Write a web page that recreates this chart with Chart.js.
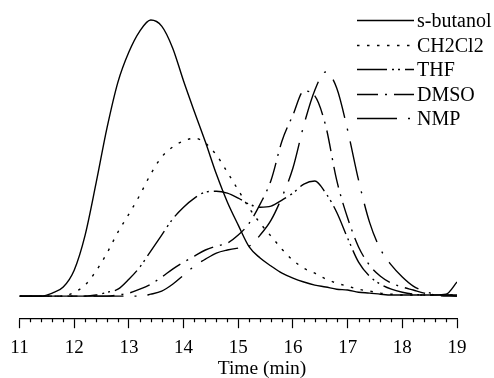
<!DOCTYPE html>
<html>
<head>
<meta charset="utf-8">
<script src="https://cdn.jsdelivr.net/npm/chart.js@4"></script>
<style>
  html, body { margin: 0; padding: 0; background: #fff; }
  #wrap { width: 494px; height: 378px; }
</style>
</head>
<body>
<div id="wrap"><canvas id="c" width="494" height="378"></canvas></div>
<script>
// Time axis (min)
const times = [11.0, 11.2, 11.4, 11.6, 11.8, 12.0, 12.2, 12.4, 12.6, 12.8,
               13.0, 13.2, 13.4, 13.6, 13.8, 14.0, 14.2, 14.4, 14.6, 14.8,
               15.0, 15.2, 15.4, 15.6, 15.8, 16.0, 16.2, 16.4, 16.6, 16.8,
               17.0, 17.2, 17.4, 17.6, 17.8, 18.0, 18.2, 18.4, 18.6, 18.8, 19.0];

// Detector response (arbitrary units)
const sButanol = [0, 0, 0, 1.1, 3.3, 9.4, 22.1, 40.9, 60.9, 77.5,
                  88.4, 96.0, 100, 97.8, 89.9, 77.9, 66.7, 55.8, 44.2, 34.1,
                  25.7, 17.8, 13.8, 10.9, 8.3, 6.5, 5.1, 4.0, 3.3, 2.5,
                  2.2, 1.4, 1.1, 0.7, 0.4, 0.4, 0.4, 0.4, 0.4, 0.7, 5.1];
const ch2cl2 = [0, 0, 0, 0, 0, 1.4, 4.0, 9.1, 15.6, 23.2,
                29.7, 36.6, 44.2, 50.4, 54.0, 56.2, 57.2, 55.4, 51.1, 44.9,
                38.4, 31.9, 26.4, 21.7, 17.0, 13.0, 10.1, 8.3, 6.2, 4.7,
                3.6, 2.5, 1.8, 1.1, 0.7, 0.4, 0.4, 0.4, 0.4, 0.4, 0.4];
const thf = [0, 0, 0, 0, 0, 0, 0, 0.4, 1.4, 2.5,
             6.1, 10.5, 16.3, 22.1, 27.9, 32.2, 35.5, 37.7, 38.0, 37.3,
             35.5, 33.3, 32.2, 32.6, 34.8, 37.3, 40.6, 41.7, 37.3, 30.4,
             21.0, 12.3, 7.2, 4.3, 2.5, 1.4, 0.7, 0.4, 0.4, 0.4, 0.4];
const dmso = [0, 0, 0, 0, 0, 0, 0, 0, 0, 0.4,
              1.1, 2.5, 4.3, 6.9, 9.8, 12.3, 14.5, 16.7, 18.1, 19.2,
              22.1, 26.4, 33.3, 42.0, 56.2, 65.6, 74.3, 72.5, 61.6, 42.0,
              28.3, 17.8, 11.2, 7.2, 4.7, 3.3, 2.2, 1.1, 0.4, 0, 0];
const nmp = [0, 0, 0, 0, 0, 0, 0, 0, 0, 0,
             0, 0, 0.7, 1.8, 4.3, 7.6, 10.9, 13.4, 15.6, 16.7,
             17.4, 18.1, 22.1, 27.5, 35.9, 46.4, 62.0, 74.6, 81.2, 75.4,
             60.1, 42.0, 26.8, 17.0, 11.2, 6.9, 3.6, 1.8, 0.7, 0.4, 0];

const seriesNames = ['s-butanol', 'CH2Cl2', 'THF', 'DMSO', 'NMP'];
const seriesValues = [sButanol, ch2cl2, thf, dmso, nmp];
const seriesDash = [[], [2.5, 7.5], [30, 5, 2, 4, 2, 5], [21, 7, 2, 7], [40, 11, 2, 11]];

const axisTitle = 'Time (min)';
const FONT = '"Liberation Serif", "Times New Roman", serif';

const isInt = v => Math.abs(v - Math.round(v)) < 1e-6;

const datasets = seriesNames.map((name, i) => ({
  label: name,
  data: times.map((t, k) => ({ x: t, y: seriesValues[i][k] })),
  borderColor: '#000',
  borderWidth: 1.4,
  borderDash: seriesDash[i],
  borderCapStyle: 'butt',
  pointRadius: 0,
  fill: false,
  cubicInterpolationMode: 'monotone'
}));

const whiteBg = {
  id: 'whiteBg',
  beforeDraw(chart) {
    const ctx = chart.ctx;
    ctx.save();
    ctx.fillStyle = '#fff';
    ctx.fillRect(0, 0, chart.width, chart.height);
    ctx.restore();
  }
};

const minorTicks = {
  id: 'minorTicks',
  afterDraw(chart) {
    const s = chart.scales.x;
    const ctx = chart.ctx;
    const y0 = chart.chartArea.bottom;
    ctx.save();
    ctx.strokeStyle = '#000';
    ctx.lineWidth = 1.2;
    ctx.beginPath();
    s.ticks.forEach(t => {
      if (!isInt(t.value)) {
        const x = Math.round(s.getPixelForValue(t.value)) + 0.5;
        ctx.moveTo(x, y0);
        ctx.lineTo(x, y0 + 4);
      }
    });
    ctx.stroke();
    ctx.restore();
  }
};

// Axis title, drawn off-centre like the original figure
const xTitle = {
  id: 'xTitle',
  afterDraw(chart) {
    const ctx = chart.ctx;
    ctx.save();
    ctx.fillStyle = '#000';
    ctx.font = '19.5px ' + FONT;
    ctx.textAlign = 'center';
    ctx.textBaseline = 'middle';
    ctx.fillText(axisTitle, 262, 369);
    ctx.restore();
  }
};

const lineLegend = {
  id: 'lineLegend',
  afterDraw(chart) {
    const ctx = chart.ctx;
    const x0 = 357, x1 = 414, tx = 417, y0 = 20, gap = 24.5;
    chart.data.datasets.forEach((ds, i) => {
      const y = Math.round(y0 + i * gap) + 0.5;
      ctx.save();
      ctx.strokeStyle = ds.borderColor;
      ctx.lineWidth = 1.3;
      ctx.lineCap = 'butt';
      ctx.setLineDash(ds.borderDash || []);
      ctx.beginPath();
      ctx.moveTo(x0, y);
      ctx.lineTo(x1, y);
      ctx.stroke();
      ctx.setLineDash([]);
      ctx.fillStyle = '#000';
      ctx.font = '20px ' + FONT;
      ctx.textBaseline = 'middle';
      ctx.textAlign = 'left';
      ctx.fillText(ds.label, tx, y + 1);
      ctx.restore();
    });
  }
};

new Chart(document.getElementById('c'), {
  type: 'line',
  data: { datasets },
  options: {
    responsive: false,
    animation: false,
    devicePixelRatio: 1,
    layout: { padding: { left: 19.5, right: 37, top: 14.5, bottom: 11 } },
    plugins: { legend: { display: false }, tooltip: { enabled: false } },
    scales: {
      x: {
        type: 'linear',
        min: 11,
        max: 19,
        border: { display: true, color: '#000', width: 1.2 },
        grid: {
          drawOnChartArea: false,
          drawTicks: true,
          tickLength: 10,
          tickWidth: 1.2,
          tickColor: c => (c.tick && isInt(c.tick.value)) ? '#000' : 'rgba(0,0,0,0)'
        },
        ticks: {
          stepSize: 0.2,
          autoSkip: false,
          maxRotation: 0,
          padding: 8,
          color: '#000',
          font: { family: FONT, size: 19, lineHeight: 1.2 },
          callback: v => isInt(v) ? String(Math.round(v)) : ''
        },
        title: { display: false }
      },
      y: {
        display: false,
        min: -8,
        max: 102
      }
    }
  },
  plugins: [whiteBg, minorTicks, xTitle, lineLegend]
});
</script>
</body>
</html>
